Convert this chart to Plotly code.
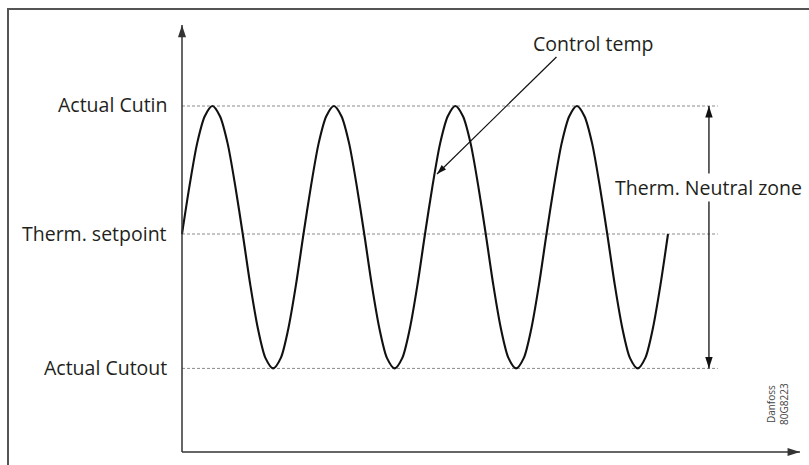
import plotly.graph_objects as go

# ---------------- data ----------------
LEVEL_NAMES = ["Actual Cutin", "Therm. setpoint", "Actual Cutout"]
LEVEL_VALUES = [1.0, 0.0, -1.05]

# time in cycles, sampled every 1/16 cycle
TIME = [0.0, 0.0625, 0.125, 0.1875, 0.25, 0.3125, 0.375, 0.4375,
        0.5, 0.5625, 0.625, 0.6875, 0.75, 0.8125, 0.875, 0.9375,
        1.0, 1.0625, 1.125, 1.1875, 1.25, 1.3125, 1.375, 1.4375,
        1.5, 1.5625, 1.625, 1.6875, 1.75, 1.8125, 1.875, 1.9375,
        2.0, 2.0625, 2.125, 2.1875, 2.25, 2.3125, 2.375, 2.4375,
        2.5, 2.5625, 2.625, 2.6875, 2.75, 2.8125, 2.875, 2.9375,
        3.0, 3.0625, 3.125, 3.1875, 3.25, 3.3125, 3.375, 3.4375,
        3.5, 3.5625, 3.625, 3.6875, 3.75, 3.8125, 3.875, 3.9375, 4.0]
CONTROL_TEMP = [0.0, 0.38, 0.71, 0.92, 1.0, 0.92, 0.71, 0.38,
                0.0, -0.40, -0.74, -0.97, -1.05, -0.97, -0.74, -0.40,
                0.0, 0.38, 0.71, 0.92, 1.0, 0.92, 0.71, 0.38,
                0.0, -0.40, -0.74, -0.97, -1.05, -0.97, -0.74, -0.40,
                0.0, 0.38, 0.71, 0.92, 1.0, 0.92, 0.71, 0.38,
                0.0, -0.40, -0.74, -0.97, -1.05, -0.97, -0.74, -0.40,
                0.0, 0.38, 0.71, 0.92, 1.0, 0.92, 0.71, 0.38,
                0.0, -0.40, -0.74, -0.97, -1.05, -0.97, -0.74, -0.40, 0.0]

CURVE_LABEL = "Control temp"
ZONE_LABEL = "Therm. Neutral zone"
CODE_LABEL = "Danfoss<br>80G8223"

# ---------------- layout geometry ----------------
W, H = 809, 465
ORIGIN_PX, PERIOD_PX = 182, 121.5      # x pixel of t=0, pixels per period
ZERO_PY, UNIT_PY = 234, 128            # y pixel of setpoint, pixels per unit

X_RANGE = [(0 - ORIGIN_PX) / PERIOD_PX, (W - ORIGIN_PX) / PERIOD_PX]
Y_RANGE = [(ZERO_PY - H) / UNIT_PY, ZERO_PY / UNIT_PY]

AXIS_BOTTOM = -1.703
AXIS_TOP = 1.633
AXIS_RIGHT = 5.086
DASH_END = 4.41
ZONE_X = 4.337
ZONE_TEXT_Y = 0.36
CT_TEXT = (3.383, 1.492)
CT_FROM = (3.082, 1.383)
CT_TIP = (2.099, 0.469)
CODE_POS = (4.905, -1.328)

TXT = "#231f20"
FONT = "Open Sans"

fig = go.Figure()

# dashed reference levels
for v in LEVEL_VALUES:
    fig.add_trace(go.Scatter(x=[0, DASH_END], y=[v, v], mode="lines",
                             line=dict(color="#8a8a8a", width=1, dash="3px,2px"),
                             hoverinfo="skip", showlegend=False))

# control temperature curve
fig.add_trace(go.Scatter(x=TIME, y=CONTROL_TEMP, mode="lines", name=CURVE_LABEL,
                         line=dict(color="#111111", width=2.1, shape="spline", smoothing=0.8),
                         showlegend=False))

# axes (with arrow heads)
fig.add_trace(go.Scatter(x=[0, 0], y=[AXIS_BOTTOM, AXIS_TOP], mode="lines",
                         line=dict(color="#333333", width=1.5), hoverinfo="skip", showlegend=False))
fig.add_trace(go.Scatter(x=[0, AXIS_RIGHT], y=[AXIS_BOTTOM, AXIS_BOTTOM], mode="lines",
                         line=dict(color="#333333", width=1.5), hoverinfo="skip", showlegend=False))

# neutral zone double arrow
fig.add_trace(go.Scatter(x=[ZONE_X, ZONE_X], y=[LEVEL_VALUES[0], LEVEL_VALUES[2]], mode="lines",
                         line=dict(color="#111111", width=1.3), hoverinfo="skip", showlegend=False))

# control temp pointer
fig.add_trace(go.Scatter(x=[CT_FROM[0], CT_TIP[0]], y=[CT_FROM[1], CT_TIP[1]], mode="lines",
                         line=dict(color="#111111", width=1.2), hoverinfo="skip", showlegend=False))

# arrow heads
heads = [
    (0, AXIS_TOP, 0, 13, "#333333"),
    (AXIS_RIGHT, AXIS_BOTTOM, 90, 13, "#333333"),
    (ZONE_X, LEVEL_VALUES[0], 0, 12, "#111111"),
    (ZONE_X, LEVEL_VALUES[2], 180, 12, "#111111"),
    (CT_TIP[0], CT_TIP[1], 225.7, 10, "#111111"),
]
for hx, hy, ang, sz, col in heads:
    fig.add_trace(go.Scatter(x=[hx], y=[hy], mode="markers",
                             marker=dict(symbol="arrow", angle=ang, size=sz, color=col,
                                         line=dict(width=0)),
                             hoverinfo="skip", showlegend=False))

annotations = []
shifts = [2, 1, 1]
for name, v, s in zip(LEVEL_NAMES, LEVEL_VALUES, shifts):
    annotations.append(dict(x=0, y=v, text=name, showarrow=False, xanchor="right",
                            yanchor="middle", xshift=-13, yshift=s,
                            font=dict(family=FONT, size=19.5, color=TXT)))
annotations.append(dict(x=CT_TEXT[0], y=CT_TEXT[1], text=CURVE_LABEL, showarrow=False,
                        xanchor="center", yanchor="middle",
                        font=dict(family=FONT, size=19.5, color=TXT)))
annotations.append(dict(x=ZONE_X, y=ZONE_TEXT_Y, text=ZONE_LABEL, showarrow=False,
                        xanchor="center", yanchor="middle", bgcolor="white", borderpad=0,
                        font=dict(family=FONT, size=19.5, color=TXT)))
annotations.append(dict(x=CODE_POS[0], y=CODE_POS[1], text=CODE_LABEL, showarrow=False,
                        textangle=-90, xanchor="center", yanchor="middle",
                        font=dict(family=FONT, size=10, color="#444444")))

# frame (top and left edges)
shapes = [
    dict(type="line", xref="paper", yref="paper", x0=7 / W, x1=1, y0=1 - 9 / H, y1=1 - 9 / H,
         line=dict(color="#555555", width=2)),
    dict(type="line", xref="paper", yref="paper", x0=8 / W, x1=8 / W, y0=0, y1=1 - 9 / H,
         line=dict(color="#555555", width=2)),
]

fig.update_layout(
    width=W, height=H, autosize=False,
    margin=dict(l=0, r=0, t=0, b=0, pad=0),
    paper_bgcolor="white", plot_bgcolor="white",
    xaxis=dict(range=X_RANGE, visible=False, fixedrange=True),
    yaxis=dict(range=Y_RANGE, visible=False, fixedrange=True),
    annotations=annotations, shapes=shapes,
    showlegend=False,
)

fig.write_html("out.html", config={"displayModeBar": False},
               post_script="document.body.style.margin='0';")
